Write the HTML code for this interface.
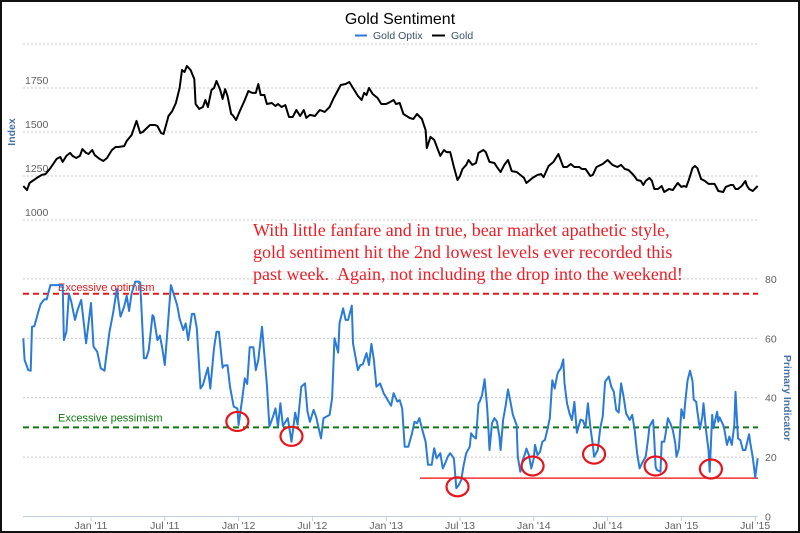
<!DOCTYPE html>
<html><head><meta charset="utf-8"><style>
html,body{margin:0;padding:0;background:#fff}
#wrap{position:relative;width:796px;height:529px;border:2px solid #111;overflow:hidden;background:#fff}
svg{position:absolute;left:-2px;top:-2px}
</style></head><body>
<div id="wrap">
<svg id="c" width="800" height="533" xmlns="http://www.w3.org/2000/svg"></svg>
</div>
<script>
// x = months since Jan 2011
const goldDates=[-5.5,-5.2,-5.0,-4.4,-4.0,-3.7,-3.3,-2.8,-2.5,-2.3,-2.0,-1.7,-1.5,-1.2,-0.9,-0.7,-0.4,-0.2,0.1,0.3,0.7,1.0,1.3,1.7,2.0,2.2,2.7,2.9,3.3,3.7,4.0,4.2,4.8,5.2,5.4,5.7,5.9,6.3,6.6,6.9,7.2,7.4,7.6,7.8,8.1,8.4,8.5,8.8,9.1,9.3,9.5,9.8,10.0,10.2,10.5,10.7,10.9,11.1,11.4,11.5,11.8,12.1,12.5,12.8,13.1,13.4,13.6,13.8,14.1,14.3,14.7,15.0,15.2,15.5,15.8,16.1,16.4,16.7,17.0,17.3,17.5,17.8,18.2,18.6,19.0,19.4,19.7,20.0,20.3,20.7,21.0,21.3,21.7,22.0,22.2,22.4,22.6,22.9,23.3,23.6,24.0,24.3,24.6,24.8,25.1,25.4,25.9,26.2,26.5,26.9,27.2,27.3,27.6,27.9,28.4,28.7,28.9,29.2,29.5,29.8,30.0,30.2,30.5,30.7,31.0,31.3,31.5,31.9,32.1,32.4,32.8,33.0,33.3,33.6,33.9,34.2,34.6,34.9,35.2,35.4,35.9,36.3,36.6,36.8,37.2,37.6,38.0,38.4,38.7,39.0,39.3,39.7,39.9,40.2,40.6,40.8,41.1,41.6,42.0,42.4,42.8,43.1,43.4,43.7,44.1,44.4,44.7,44.9,45.1,45.4,45.6,45.8,46.1,46.4,46.6,47.0,47.3,47.7,48.0,48.2,48.4,48.6,48.9,49.1,49.3,49.6,49.9,50.2,50.7,51.0,51.4,51.6,52.0,52.2,52.4,52.6,52.9,53.2,53.3,53.5,53.8,54.2];
const goldValues=[1193,1170,1210,1239,1256,1261,1295,1347,1358,1330,1364,1381,1364,1352,1364,1403,1381,1375,1398,1369,1347,1335,1352,1398,1415,1415,1420,1449,1483,1563,1494,1500,1540,1540,1534,1494,1489,1591,1619,1665,1750,1852,1841,1875,1852,1801,1659,1631,1642,1682,1642,1739,1750,1790,1739,1688,1744,1705,1602,1597,1568,1619,1682,1733,1722,1722,1773,1710,1710,1659,1665,1648,1659,1642,1653,1585,1585,1625,1591,1625,1580,1597,1591,1625,1614,1642,1688,1727,1767,1773,1784,1750,1705,1682,1722,1710,1750,1716,1693,1659,1659,1670,1682,1659,1665,1602,1580,1574,1602,1574,1511,1409,1472,1455,1364,1398,1386,1386,1301,1227,1250,1290,1313,1341,1313,1324,1381,1398,1386,1330,1324,1301,1273,1313,1341,1278,1273,1256,1239,1210,1239,1256,1261,1244,1307,1330,1375,1301,1301,1318,1301,1301,1290,1290,1250,1256,1301,1318,1341,1313,1301,1313,1290,1284,1256,1227,1222,1199,1222,1239,1222,1176,1176,1193,1159,1176,1170,1210,1188,1193,1188,1227,1295,1307,1295,1233,1222,1205,1205,1165,1159,1188,1199,1199,1176,1176,1193,1222,1199,1176,1165,1193,1176,1165,1159,1148];
const optixDates=[-5.5,-5.4,-5.1,-4.9,-4.8,-4.6,-4.3,-4.1,-3.8,-3.6,-3.3,-2.5,-2.3,-2.2,-2.0,-1.8,-1.6,-1.3,-1.1,-0.8,-0.4,0.0,0.2,0.5,0.8,1.1,1.2,1.5,1.8,2.1,2.4,2.7,2.9,3.1,3.3,3.6,3.9,4.0,4.3,4.5,4.7,5.0,5.1,5.4,5.6,5.8,6.0,6.5,7.0,7.2,7.5,7.7,7.9,8.2,8.4,8.6,8.9,9.1,9.5,9.7,10.0,10.2,10.4,10.7,10.8,11.1,11.3,11.6,11.9,12.0,12.3,12.5,12.7,12.9,13.2,13.4,13.6,13.9,14.3,14.5,14.8,15.0,15.2,15.4,15.6,16.0,16.3,16.6,16.8,17.1,17.4,17.6,17.8,18.1,18.3,18.7,18.9,19.4,19.6,19.8,20.1,20.2,20.5,20.7,20.9,21.2,21.3,21.7,21.9,22.1,22.4,22.6,22.8,23.0,23.2,23.5,23.8,24.4,24.6,24.9,25.1,25.3,25.5,25.8,26.1,26.3,26.5,26.7,26.9,27.2,27.4,27.7,27.9,28.1,28.4,28.6,28.8,29.0,29.2,29.5,29.7,29.9,30.1,30.3,30.5,30.8,30.9,31.1,31.3,31.5,31.6,31.8,32.0,32.2,32.3,32.4,32.6,32.8,33.0,33.2,33.3,33.5,33.7,33.9,34.1,34.3,34.4,34.6,34.7,34.9,35.1,35.3,35.4,35.6,35.8,36.0,36.1,36.3,36.5,36.7,36.9,37.1,37.3,37.5,37.7,37.9,38.0,38.2,38.4,38.5,38.7,38.9,39.1,39.3,39.5,39.8,40.0,40.2,40.4,40.6,40.8,40.9,41.2,41.4,41.6,41.8,42.1,42.3,42.5,42.7,42.9,43.1,43.3,43.5,43.8,44.0,44.2,44.4,44.6,44.8,45.1,45.3,45.4,45.7,45.8,45.9,46.0,46.3,46.4,46.6,46.7,46.9,47.1,47.3,47.5,47.6,47.8,48.0,48.2,48.3,48.5,48.7,48.9,49.0,49.2,49.3,49.5,49.7,49.8,50.0,50.2,50.3,50.5,50.6,50.9,51.0,51.1,51.4,51.5,51.7,51.9,52.1,52.3,52.4,52.6,52.8,53.0,53.2,53.5,53.6,53.8,54.0,54.2];
const optixValues=[60.0,52.7,49.3,49.1,63.9,64.1,68.7,71.5,73.1,73.1,77.9,77.9,77.9,59.4,62.2,75.1,72.3,66.2,69.5,72.9,58.3,71.9,57.2,55.5,49.9,49.1,52.7,62.2,68.5,76.5,67.3,70.7,74.3,69.2,75.1,79.1,79.1,78.7,53.3,53.3,56.1,67.8,67.3,59.4,60.9,56.6,51.0,77.9,71.2,66.7,62.8,65.0,59.4,68.2,68.2,63.4,43.1,44.3,50.1,43.1,56.6,62.2,62.2,50.1,50.8,50.9,43.7,37.0,36.4,30.8,39.8,46.5,44.6,57.0,57.0,49.3,52.7,63.9,44.3,30.3,33.6,36.4,30.3,38.1,30.5,33.1,25.2,35.0,30.9,43.7,44.8,35.3,31.9,35.9,33.6,26.3,33.1,34.2,39.8,60.0,55.2,65.0,70.1,66.2,66.2,71.0,58.3,49.3,51.0,51.2,55.0,51.0,58.1,52.7,43.7,44.8,41.5,37.3,41.5,38.7,39.2,36.4,23.5,23.5,28.0,31.9,31.4,33.1,29.7,25.2,17.4,17.4,23.0,19.6,21.3,16.2,17.9,20.1,21.3,19.6,9.5,10.6,12.3,17.3,21.3,23.5,28.0,26.9,26.3,38.1,38.7,40.9,46.2,37.0,30.3,22.4,31.4,33.1,32.0,26.9,22.4,32.5,37.0,42.8,38.7,34.2,33.1,30.8,20.1,15.1,19.0,21.3,22.9,20.7,16.2,19.6,24.1,20.7,21.8,25.2,25.8,29.1,33.1,45.9,43.1,47.6,48.8,49.9,52.9,44.8,38.1,34.7,32.5,38.6,28.2,32.6,32.3,30.0,38.1,30.0,24.1,20.1,22.4,29.7,33.6,45.4,47.1,43.7,42.0,35.9,35.0,44.8,40.3,34.7,32.5,34.2,29.1,21.3,16.2,17.9,20.1,26.3,30.3,32.5,25.8,16.8,15.7,15.1,25.2,25.2,27.4,33.1,31.4,29.1,24.6,20.1,22.9,36.1,33.1,38.1,45.9,49.1,45.6,39.4,38.6,35.3,29.4,33.6,38.1,29.1,22.4,15.1,34.2,29.7,35.3,31.9,33.4,30.8,29.1,24.1,26.9,24.1,30.8,42.0,26.3,25.7,22.4,22.4,27.7,24.7,20.1,13.2,19.6];
const goldTicks=[1000,1250,1500,1750,2000];
const optixTicks=[0,20,40,60,80];
const xTickLabels=["Jan '11","Jul '11","Jan '12","Jul '12","Jan '13","Jul '13","Jan '14","Jul '14","Jan '15","Jul '15"];
const xTickMonths=[0,6,12,18,24,30,36,42,48,54];
const optimismLevel=75, pessimismLevel=30, lowLevel=12.9;
const circleDates=[11.9,16.3,29.8,35.9,40.9,45.9,50.4];
const circleValues=[32,27,10,17,21,17,16];

const X0=23,X1=758;
const xs=m=>91+m*12.3;
const yG=v=>220-(v-1000)*44/250;
const yO=v=>516.5-v*2.97;
const svg=document.getElementById('c');
const NS='http://www.w3.org/2000/svg';
function mk(tag,attrs,parent){const e=document.createElementNS(NS,tag);for(const k in attrs)e.setAttribute(k,attrs[k]);(parent||svg).appendChild(e);return e;}
const F='"Liberation Sans", Arial, sans-serif';

goldTicks.forEach(v=>{
 const g=mk('line',{x1:X0,x2:X1,y1:yG(v),y2:yG(v),stroke:'#c8c8c8','stroke-dasharray':'2,2','stroke-width':1});
 
 
 if(v!==2000){const t=mk('text',{x:25,y:yG(v)-4,'font-family':F,'font-size':10.5,fill:'#606060'});t.textContent=v;
 
 }
});
optixTicks.forEach(v=>{
 const g=mk('line',{x1:X0,x2:X1,y1:yO(v),y2:yO(v),stroke:v===0?'#c0d0e0':'#c8c8c8','stroke-dasharray':v===0?'':'2,2','stroke-width':1});
 
 
 const t=mk('text',{x:765,y:yO(v)+4,'font-family':F,'font-size':10.5,fill:'#606060'});t.textContent=v;
 
 
});
xTickMonths.forEach((m,i)=>{
 const l=mk('line',{x1:xs(m),x2:xs(m),y1:516,y2:521,stroke:'#c0d0e0'});
 
 
 const t=mk('text',{x:xs(m),y:529,'text-anchor':'middle','font-family':F,'font-size':10.5,fill:'#606060'});t.textContent=xTickLabels[i];
 
 
});
let r=mk('line',{x1:X0,x2:X1,y1:yO(optimismLevel),y2:yO(optimismLevel),stroke:'#e41a1c','stroke-width':2,'stroke-dasharray':'6,4'});


r=mk('line',{x1:X0,x2:X1,y1:yO(pessimismLevel),y2:yO(pessimismLevel),stroke:'#137a13','stroke-width':2,'stroke-dasharray':'6,4'});


r=mk('line',{x1:420,x2:X1,y1:yO(lowLevel),y2:yO(lowLevel),stroke:'#f03030','stroke-width':1.5});


let t=mk('text',{x:58,y:yO(optimismLevel)-3,'font-family':F,'font-size':11,fill:'#e41a1c'});t.textContent='Excessive optimism';


t=mk('text',{x:58,y:yO(pessimismLevel)-6,'font-family':F,'font-size':11,fill:'#137a13'});t.textContent='Excessive pessimism';



let p=mk('path',{d:goldDates.map((m,i)=>(i?'L':'M')+xs(m).toFixed(1)+','+yG(goldValues[i]).toFixed(1)).join(''),fill:'none',stroke:'#000','stroke-width':2,'stroke-linejoin':'round'});


p=mk('path',{d:optixDates.map((m,i)=>(i?'L':'M')+xs(m).toFixed(1)+','+yO(optixValues[i]).toFixed(1)).join(''),fill:'none',stroke:'#2a7ad8','stroke-width':2,'stroke-linejoin':'round'});



circleDates.forEach((m,i)=>{
 const c=mk('ellipse',{cx:xs(m),cy:yO(circleValues[i]),rx:11,ry:9.5,fill:'none',stroke:'#e8141c','stroke-width':2.2});
 
 
});

t=mk('text',{x:400,y:24,'text-anchor':'middle','font-family':F,'font-size':16,fill:'#000'});t.textContent='Gold Sentiment';


r=mk('line',{x1:355,x2:367,y1:35.5,y2:35.5,stroke:'#2a7ad8','stroke-width':2});


t=mk('text',{x:373,y:39,'font-family':F,'font-size':10.5,fill:'#3a4f6a'});t.textContent='Gold Optix';


r=mk('line',{x1:432,x2:445,y1:35.5,y2:35.5,stroke:'#000','stroke-width':2});


t=mk('text',{x:451,y:39,'font-family':F,'font-size':10.5,fill:'#3a4f6a'});t.textContent='Gold';


t=mk('text',{x:0,y:0,transform:'translate(15,132) rotate(-90)','text-anchor':'middle','font-family':F,'font-size':10.5,'font-weight':'bold',fill:'#4572a7'});t.textContent='Index';


t=mk('text',{x:0,y:0,transform:'translate(784,398) rotate(90)','text-anchor':'middle','font-family':F,'font-size':10.5,'font-weight':'bold',fill:'#4572a7'});t.textContent='Primary Indicator';



const lines=['With little fanfare and in true, bear market apathetic style,','gold sentiment hit the 2nd lowest levels ever recorded this','past week.  Again, not including the drop into the weekend!'];
lines.forEach((s,i)=>{
 const a=mk('text',{x:253,y:236+i*22,'font-family':'"Liberation Serif", serif','font-size':18,fill:'#ee1c24'});
 a.setAttribute('style','white-space:pre');
 a.textContent=s;
 
 
});
</script>
</body></html>
